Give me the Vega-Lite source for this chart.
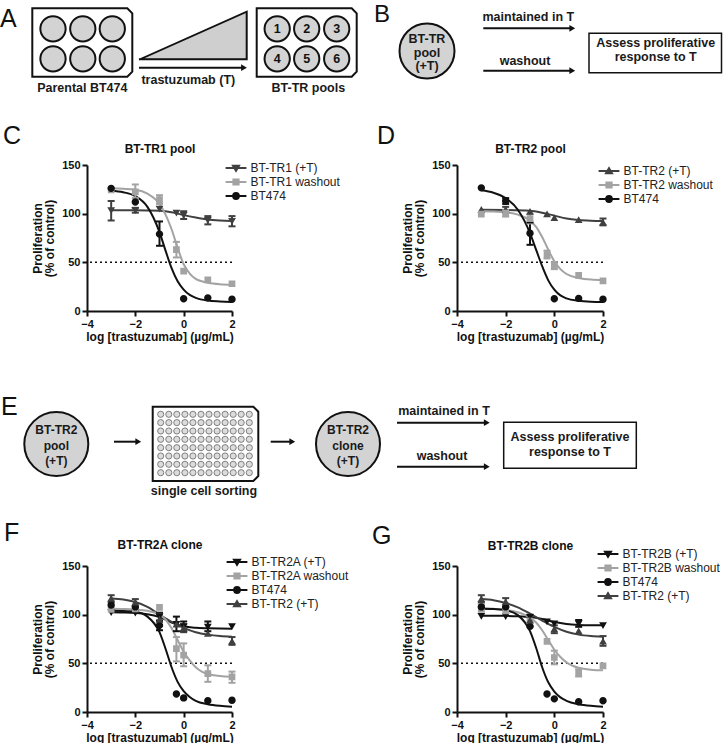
{
  "$schema": "https://vega.github.io/schema/vega-lite/v6.json",
  "padding": 0,
  "background": "white",
  "columns": 2,
  "bounds": "flush",
  "align": "each",
  "spacing": {"row": 55, "column": 225},
  "resolve": {
    "scale": {"x": "independent", "y": "independent", "color": "independent", "stroke": "independent", "shape": "independent"},
    "legend": {"color": "independent", "stroke": "independent", "shape": "independent"}
  },
  "config": {
    "font": "Liberation Sans",
    "view": {"stroke": null},
    "axis": {"domainColor": "#111", "domainWidth": 2, "tickColor": "#111", "tickWidth": 2, "tickSize": 5, "labelFontSize": 11, "labelFontWeight": "bold", "labelColor": "#111", "titleFontSize": 12, "titleFontWeight": "bold", "titleColor": "#111", "grid": false, "labelPadding": 2, "labelFont": "Liberation Sans", "titleFont": "Liberation Sans"},
    "legend": {"labelFontSize": 12, "labelColor": "#222", "labelFont": "Liberation Sans", "padding": 0, "rowPadding": 0, "labelOffset": 8.5, "symbolSize": 30, "symbolStrokeWidth": 2},
    "title": {"fontSize": 25, "fontWeight": "normal", "anchor": "start", "frame": "group", "color": "#111", "font": "Liberation Sans", "offset": 2}
  },
  "datasets": {
    "schemA": [
      {"part": "frame", "x": 0, "x2": 370, "y": 0, "y2": 110},
      {"part": "letter", "x": 0, "y": 27, "t": "A"},
      {"part": "outline", "id": "p1", "seq": 0, "x": 32.3, "y": 8.3},
      {"part": "outline", "id": "p1", "seq": 1, "x": 127.3, "y": 8.3},
      {"part": "outline", "id": "p1", "seq": 2, "x": 132.3, "y": 13.3},
      {"part": "outline", "id": "p1", "seq": 3, "x": 132.3, "y": 71.7},
      {"part": "outline", "id": "p1", "seq": 4, "x": 127.3, "y": 76.7},
      {"part": "outline", "id": "p1", "seq": 5, "x": 32.3, "y": 76.7},
      {"part": "outline", "id": "p1", "seq": 6, "x": 32.3, "y": 8.3},
      {"part": "outline", "id": "p2", "seq": 0, "x": 256.7, "y": 8.3},
      {"part": "outline", "id": "p2", "seq": 1, "x": 351.7, "y": 8.3},
      {"part": "outline", "id": "p2", "seq": 2, "x": 356.7, "y": 13.3},
      {"part": "outline", "id": "p2", "seq": 3, "x": 356.7, "y": 71.7},
      {"part": "outline", "id": "p2", "seq": 4, "x": 351.7, "y": 76.7},
      {"part": "outline", "id": "p2", "seq": 5, "x": 256.7, "y": 76.7},
      {"part": "outline", "id": "p2", "seq": 6, "x": 256.7, "y": 8.3},
      {"part": "outline", "id": "tri", "seq": 0, "x": 140, "y": 59.3},
      {"part": "outline", "id": "tri", "seq": 1, "x": 246.7, "y": 11.7},
      {"part": "outline", "id": "tri", "seq": 2, "x": 246.7, "y": 59.3},
      {"part": "outline", "id": "tri", "seq": 3, "x": 140, "y": 59.3},
      {"part": "outline", "id": "arr", "seq": 0, "x": 140, "y": 67.7},
      {"part": "outline", "id": "arr", "seq": 1, "x": 243, "y": 67.7},
      {"part": "wedge", "x": 140, "y": 59.3, "y2": 59.3},
      {"part": "wedge", "x": 246.7, "y": 11.7, "y2": 59.3},
      {"part": "well", "x": 53, "y": 28.8},
      {"part": "well", "x": 82.8, "y": 28.8},
      {"part": "well", "x": 112.3, "y": 28.8},
      {"part": "well", "x": 53, "y": 58.8},
      {"part": "well", "x": 82.8, "y": 58.8},
      {"part": "well", "x": 112.3, "y": 58.8},
      {"part": "well", "x": 277.2, "y": 28.8},
      {"part": "well", "x": 306.7, "y": 28.8},
      {"part": "well", "x": 336.7, "y": 28.8},
      {"part": "well", "x": 277.2, "y": 58.8},
      {"part": "well", "x": 306.7, "y": 58.8},
      {"part": "well", "x": 336.7, "y": 58.8},
      {"part": "num", "x": 277.2, "y": 28.8, "t": "1"},
      {"part": "num", "x": 306.7, "y": 28.8, "t": "2"},
      {"part": "num", "x": 336.7, "y": 28.8, "t": "3"},
      {"part": "num", "x": 277.2, "y": 58.8, "t": "4"},
      {"part": "num", "x": 306.7, "y": 58.8, "t": "5"},
      {"part": "num", "x": 336.7, "y": 58.8, "t": "6"},
      {"part": "head", "x": 244, "y": 67.7},
      {"part": "label", "x": 82.3, "y": 87.8, "t": "Parental BT474"},
      {"part": "label", "x": 188.3, "y": 79.5, "t": "trastuzumab (T)"},
      {"part": "label", "x": 308.3, "y": 87.8, "t": "BT-TR pools"}
    ],
    "schemB": [
      {"part": "letter", "x": 374, "y": 21.5, "t": "B"},
      {"part": "circle", "x": 427, "y": 51},
      {"part": "ctext", "x": 427, "y": 39, "t": "BT-TR"},
      {"part": "ctext", "x": 427, "y": 52.5, "t": "pool"},
      {"part": "ctext", "x": 427, "y": 66, "t": "(+T)"},
      {"part": "label", "x": 528.3, "y": 17.3, "t": "maintained in T"},
      {"part": "label", "x": 525, "y": 60.7, "t": "washout"},
      {"part": "label", "x": 655.7, "y": 43.3, "t": "Assess proliferative"},
      {"part": "label", "x": 655.7, "y": 56.7, "t": "response to T"},
      {"part": "outline", "id": "a1", "seq": 0, "x": 483.3, "y": 28.3},
      {"part": "outline", "id": "a1", "seq": 1, "x": 572, "y": 28.3},
      {"part": "outline", "id": "a2", "seq": 0, "x": 483.3, "y": 70.7},
      {"part": "outline", "id": "a2", "seq": 1, "x": 572, "y": 70.7},
      {"part": "head", "x": 572.3, "y": 28.3},
      {"part": "head", "x": 572.3, "y": 70.7},
      {"part": "box", "x": 589, "x2": 721.5, "y": 33.3, "y2": 72.7}
    ],
    "schemE1": [
      {"part": "letter", "x": 1, "y": 415, "t": "E"},
      {"part": "circle", "x": 56.3, "y": 444},
      {"part": "circle", "x": 348, "y": 444},
      {"part": "ctext", "x": 56.3, "y": 430, "t": "BT-TR2"},
      {"part": "ctext", "x": 56.3, "y": 445.5, "t": "pool"},
      {"part": "ctext", "x": 56.3, "y": 461, "t": "(+T)"},
      {"part": "ctext", "x": 348, "y": 430, "t": "BT-TR2"},
      {"part": "ctext", "x": 348, "y": 445.5, "t": "clone"},
      {"part": "ctext", "x": 348, "y": 461, "t": "(+T)"},
      {"part": "outline", "id": "pl", "seq": 0, "x": 152.7, "y": 406.7},
      {"part": "outline", "id": "pl", "seq": 1, "x": 253.3, "y": 406.7},
      {"part": "outline", "id": "pl", "seq": 2, "x": 258.3, "y": 411.7},
      {"part": "outline", "id": "pl", "seq": 3, "x": 258.3, "y": 476},
      {"part": "outline", "id": "pl", "seq": 4, "x": 253.3, "y": 481},
      {"part": "outline", "id": "pl", "seq": 5, "x": 152.7, "y": 481},
      {"part": "outline", "id": "pl", "seq": 6, "x": 152.7, "y": 406.7},
      {"part": "outline", "id": "e1", "seq": 0, "x": 115, "y": 441.7},
      {"part": "outline", "id": "e1", "seq": 1, "x": 138, "y": 441.7},
      {"part": "outline", "id": "e2", "seq": 0, "x": 271.7, "y": 441.7},
      {"part": "outline", "id": "e2", "seq": 1, "x": 292, "y": 441.7},
      {"part": "head", "x": 138.3, "y": 441.7},
      {"part": "head", "x": 292.3, "y": 441.7},
      {"part": "label", "x": 204, "y": 491, "t": "single cell sorting"}
    ],
    "wells": [
      {"x": 160.7, "y": 414.3}, {"x": 168.8, "y": 414.3}, {"x": 176.8, "y": 414.3}, {"x": 184.9, "y": 414.3}, {"x": 192.9, "y": 414.3}, {"x": 201.0, "y": 414.3}, {"x": 209.0, "y": 414.3}, {"x": 217.1, "y": 414.3}, {"x": 225.1, "y": 414.3}, {"x": 233.2, "y": 414.3}, {"x": 241.2, "y": 414.3}, {"x": 249.3, "y": 414.3},
      {"x": 160.7, "y": 422.6}, {"x": 168.8, "y": 422.6}, {"x": 176.8, "y": 422.6}, {"x": 184.9, "y": 422.6}, {"x": 192.9, "y": 422.6}, {"x": 201.0, "y": 422.6}, {"x": 209.0, "y": 422.6}, {"x": 217.1, "y": 422.6}, {"x": 225.1, "y": 422.6}, {"x": 233.2, "y": 422.6}, {"x": 241.2, "y": 422.6}, {"x": 249.3, "y": 422.6},
      {"x": 160.7, "y": 431.0}, {"x": 168.8, "y": 431.0}, {"x": 176.8, "y": 431.0}, {"x": 184.9, "y": 431.0}, {"x": 192.9, "y": 431.0}, {"x": 201.0, "y": 431.0}, {"x": 209.0, "y": 431.0}, {"x": 217.1, "y": 431.0}, {"x": 225.1, "y": 431.0}, {"x": 233.2, "y": 431.0}, {"x": 241.2, "y": 431.0}, {"x": 249.3, "y": 431.0},
      {"x": 160.7, "y": 439.3}, {"x": 168.8, "y": 439.3}, {"x": 176.8, "y": 439.3}, {"x": 184.9, "y": 439.3}, {"x": 192.9, "y": 439.3}, {"x": 201.0, "y": 439.3}, {"x": 209.0, "y": 439.3}, {"x": 217.1, "y": 439.3}, {"x": 225.1, "y": 439.3}, {"x": 233.2, "y": 439.3}, {"x": 241.2, "y": 439.3}, {"x": 249.3, "y": 439.3},
      {"x": 160.7, "y": 447.7}, {"x": 168.8, "y": 447.7}, {"x": 176.8, "y": 447.7}, {"x": 184.9, "y": 447.7}, {"x": 192.9, "y": 447.7}, {"x": 201.0, "y": 447.7}, {"x": 209.0, "y": 447.7}, {"x": 217.1, "y": 447.7}, {"x": 225.1, "y": 447.7}, {"x": 233.2, "y": 447.7}, {"x": 241.2, "y": 447.7}, {"x": 249.3, "y": 447.7},
      {"x": 160.7, "y": 456.0}, {"x": 168.8, "y": 456.0}, {"x": 176.8, "y": 456.0}, {"x": 184.9, "y": 456.0}, {"x": 192.9, "y": 456.0}, {"x": 201.0, "y": 456.0}, {"x": 209.0, "y": 456.0}, {"x": 217.1, "y": 456.0}, {"x": 225.1, "y": 456.0}, {"x": 233.2, "y": 456.0}, {"x": 241.2, "y": 456.0}, {"x": 249.3, "y": 456.0},
      {"x": 160.7, "y": 464.3}, {"x": 168.8, "y": 464.3}, {"x": 176.8, "y": 464.3}, {"x": 184.9, "y": 464.3}, {"x": 192.9, "y": 464.3}, {"x": 201.0, "y": 464.3}, {"x": 209.0, "y": 464.3}, {"x": 217.1, "y": 464.3}, {"x": 225.1, "y": 464.3}, {"x": 233.2, "y": 464.3}, {"x": 241.2, "y": 464.3}, {"x": 249.3, "y": 464.3},
      {"x": 160.7, "y": 472.7}, {"x": 168.8, "y": 472.7}, {"x": 176.8, "y": 472.7}, {"x": 184.9, "y": 472.7}, {"x": 192.9, "y": 472.7}, {"x": 201.0, "y": 472.7}, {"x": 209.0, "y": 472.7}, {"x": 217.1, "y": 472.7}, {"x": 225.1, "y": 472.7}, {"x": 233.2, "y": 472.7}, {"x": 241.2, "y": 472.7}, {"x": 249.3, "y": 472.7}
    ],
    "schemE2": [
      {"part": "outline", "id": "m", "seq": 0, "x": 397, "y": 422.7},
      {"part": "outline", "id": "m", "seq": 1, "x": 486.5, "y": 422.7},
      {"part": "outline", "id": "w", "seq": 0, "x": 397, "y": 466.7},
      {"part": "outline", "id": "w", "seq": 1, "x": 486.5, "y": 466.7},
      {"part": "head", "x": 486.8, "y": 422.7},
      {"part": "head", "x": 486.8, "y": 466.7},
      {"part": "label", "x": 444, "y": 411.3, "t": "maintained in T"},
      {"part": "label", "x": 442, "y": 456, "t": "washout"},
      {"part": "label", "x": 570, "y": 436.7, "t": "Assess proliferative"},
      {"part": "label", "x": 570, "y": 451.7, "t": "response to T"},
      {"part": "box", "x": 503.7, "x2": 636.3, "y": 422.3, "y2": 468.3}
    ],
    "pts": [
      {"p": "C", "s": "BT-TR1 (+T)", "x": -3, "y": 103.4, "lo": 93, "hi": 113},
      {"p": "C", "s": "BT-TR1 (+T)", "x": -2, "y": 103.4, "lo": 101, "hi": 106},
      {"p": "C", "s": "BT-TR1 (+T)", "x": -1, "y": 105},
      {"p": "C", "s": "BT-TR1 (+T)", "x": -0.3, "y": 101},
      {"p": "C", "s": "BT-TR1 (+T)", "x": 0, "y": 98.5, "lo": 94.5, "hi": 102.5},
      {"p": "C", "s": "BT-TR1 (+T)", "x": 1, "y": 93.4, "lo": 89, "hi": 97.5},
      {"p": "C", "s": "BT-TR1 (+T)", "x": 2, "y": 92.4, "lo": 87, "hi": 97.5},
      {"p": "C", "s": "BT-TR1 washout", "x": -3, "y": 124.5},
      {"p": "C", "s": "BT-TR1 washout", "x": -2, "y": 122.5, "lo": 116, "hi": 130},
      {"p": "C", "s": "BT-TR1 washout", "x": -1, "y": 114.5, "lo": 110, "hi": 119},
      {"p": "C", "s": "BT-TR1 washout", "x": -0.3, "y": 63, "lo": 55, "hi": 71},
      {"p": "C", "s": "BT-TR1 washout", "x": 0, "y": 41},
      {"p": "C", "s": "BT-TR1 washout", "x": 1, "y": 32},
      {"p": "C", "s": "BT-TR1 washout", "x": 2, "y": 28},
      {"p": "C", "s": "BT474", "x": -3, "y": 126},
      {"p": "C", "s": "BT474", "x": -2, "y": 112},
      {"p": "C", "s": "BT474", "x": -1, "y": 79, "lo": 67, "hi": 92},
      {"p": "C", "s": "BT474", "x": 0, "y": 12.5},
      {"p": "C", "s": "BT474", "x": 1, "y": 13.5},
      {"p": "C", "s": "BT474", "x": 2, "y": 12},
      {"p": "D", "s": "BT-TR2 (+T)", "x": -3, "y": 104},
      {"p": "D", "s": "BT-TR2 (+T)", "x": -2, "y": 104, "lo": 101, "hi": 107},
      {"p": "D", "s": "BT-TR2 (+T)", "x": -1, "y": 102},
      {"p": "D", "s": "BT-TR2 (+T)", "x": -0.3, "y": 99.5},
      {"p": "D", "s": "BT-TR2 (+T)", "x": 0, "y": 95.5},
      {"p": "D", "s": "BT-TR2 (+T)", "x": 1, "y": 93.5},
      {"p": "D", "s": "BT-TR2 (+T)", "x": 2, "y": 91, "lo": 88, "hi": 95},
      {"p": "D", "s": "BT-TR2 washout", "x": -3, "y": 99.5},
      {"p": "D", "s": "BT-TR2 washout", "x": -2, "y": 100.5, "lo": 97, "hi": 104},
      {"p": "D", "s": "BT-TR2 washout", "x": -1, "y": 95, "lo": 90, "hi": 100},
      {"p": "D", "s": "BT-TR2 washout", "x": -0.3, "y": 58, "lo": 54, "hi": 62},
      {"p": "D", "s": "BT-TR2 washout", "x": 0, "y": 46.5, "lo": 43, "hi": 50},
      {"p": "D", "s": "BT-TR2 washout", "x": 1, "y": 36.5},
      {"p": "D", "s": "BT-TR2 washout", "x": 2, "y": 31},
      {"p": "D", "s": "BT474", "x": -3, "y": 126.5},
      {"p": "D", "s": "BT474", "x": -2, "y": 113, "lo": 110, "hi": 116},
      {"p": "D", "s": "BT474", "x": -1, "y": 80, "lo": 68, "hi": 91},
      {"p": "D", "s": "BT474", "x": 0, "y": 12.5},
      {"p": "D", "s": "BT474", "x": 1, "y": 13},
      {"p": "D", "s": "BT474", "x": 2, "y": 12},
      {"p": "F", "s": "BT-TR2A (+T)", "x": -3, "y": 102.5},
      {"p": "F", "s": "BT-TR2A (+T)", "x": -2, "y": 102},
      {"p": "F", "s": "BT-TR2A (+T)", "x": -1, "y": 98, "lo": 94, "hi": 102},
      {"p": "F", "s": "BT-TR2A (+T)", "x": -0.3, "y": 90.5, "lo": 83, "hi": 98},
      {"p": "F", "s": "BT-TR2A (+T)", "x": 0, "y": 88, "lo": 83, "hi": 93},
      {"p": "F", "s": "BT-TR2A (+T)", "x": 1, "y": 87.5, "lo": 83, "hi": 93},
      {"p": "F", "s": "BT-TR2A (+T)", "x": 2, "y": 88},
      {"p": "F", "s": "BT-TR2A washout", "x": -3, "y": 105.5},
      {"p": "F", "s": "BT-TR2A washout", "x": -2, "y": 106},
      {"p": "F", "s": "BT-TR2A washout", "x": -1, "y": 107.5},
      {"p": "F", "s": "BT-TR2A washout", "x": -0.3, "y": 65, "lo": 52, "hi": 77},
      {"p": "F", "s": "BT-TR2A washout", "x": 0, "y": 58.5, "lo": 47, "hi": 70.5},
      {"p": "F", "s": "BT-TR2A washout", "x": 1, "y": 39.5, "lo": 31, "hi": 48},
      {"p": "F", "s": "BT-TR2A washout", "x": 2, "y": 36, "lo": 30, "hi": 41.5},
      {"p": "F", "s": "BT474", "x": -3, "y": 110},
      {"p": "F", "s": "BT474", "x": -2, "y": 108},
      {"p": "F", "s": "BT474", "x": -1, "y": 89, "lo": 84, "hi": 93},
      {"p": "F", "s": "BT474", "x": -0.3, "y": 18.5},
      {"p": "F", "s": "BT474", "x": 0, "y": 14.5},
      {"p": "F", "s": "BT474", "x": 1, "y": 11.5},
      {"p": "F", "s": "BT474", "x": 2, "y": 12},
      {"p": "F", "s": "BT-TR2 (+T)", "x": -3, "y": 116.5, "lo": 113, "hi": 120},
      {"p": "F", "s": "BT-TR2 (+T)", "x": -2, "y": 112.5, "lo": 109, "hi": 116},
      {"p": "F", "s": "BT-TR2 (+T)", "x": -1, "y": 95, "lo": 89, "hi": 101},
      {"p": "F", "s": "BT-TR2 (+T)", "x": -0.3, "y": 90},
      {"p": "F", "s": "BT-TR2 (+T)", "x": 0, "y": 86, "lo": 82, "hi": 90},
      {"p": "F", "s": "BT-TR2 (+T)", "x": 1, "y": 80.5},
      {"p": "F", "s": "BT-TR2 (+T)", "x": 2, "y": 72.5, "lo": 69, "hi": 77},
      {"p": "G", "s": "BT-TR2B (+T)", "x": -3, "y": 98.5},
      {"p": "G", "s": "BT-TR2B (+T)", "x": -2, "y": 98.3},
      {"p": "G", "s": "BT-TR2B (+T)", "x": -1, "y": 97.5},
      {"p": "G", "s": "BT-TR2B (+T)", "x": -0.3, "y": 93},
      {"p": "G", "s": "BT-TR2B (+T)", "x": 0, "y": 91},
      {"p": "G", "s": "BT-TR2B (+T)", "x": 1, "y": 91, "lo": 87.5, "hi": 94.5},
      {"p": "G", "s": "BT-TR2B (+T)", "x": 2, "y": 89},
      {"p": "G", "s": "BT-TR2B washout", "x": -3, "y": 107, "lo": 103, "hi": 111},
      {"p": "G", "s": "BT-TR2B washout", "x": -2, "y": 104},
      {"p": "G", "s": "BT-TR2B washout", "x": -1, "y": 93.5},
      {"p": "G", "s": "BT-TR2B washout", "x": -0.3, "y": 72.5},
      {"p": "G", "s": "BT-TR2B washout", "x": 0, "y": 56, "lo": 49, "hi": 63},
      {"p": "G", "s": "BT-TR2B washout", "x": 1, "y": 40, "lo": 36.5, "hi": 44},
      {"p": "G", "s": "BT-TR2B washout", "x": 2, "y": 47.5},
      {"p": "G", "s": "BT474", "x": -3, "y": 108},
      {"p": "G", "s": "BT474", "x": -2, "y": 108},
      {"p": "G", "s": "BT474", "x": -1, "y": 88},
      {"p": "G", "s": "BT474", "x": -0.3, "y": 18.5},
      {"p": "G", "s": "BT474", "x": 0, "y": 13.5},
      {"p": "G", "s": "BT474", "x": 1, "y": 10.5},
      {"p": "G", "s": "BT474", "x": 2, "y": 11.5},
      {"p": "G", "s": "BT-TR2 (+T)", "x": -3, "y": 116, "lo": 112.5, "hi": 120},
      {"p": "G", "s": "BT-TR2 (+T)", "x": -2, "y": 113, "lo": 108, "hi": 117},
      {"p": "G", "s": "BT-TR2 (+T)", "x": -1, "y": 94, "lo": 88, "hi": 100},
      {"p": "G", "s": "BT-TR2 (+T)", "x": 0, "y": 85, "lo": 81, "hi": 89},
      {"p": "G", "s": "BT-TR2 (+T)", "x": 1, "y": 83},
      {"p": "G", "s": "BT-TR2 (+T)", "x": 2, "y": 72.5, "lo": 68, "hi": 78}
    ],
    "curves": [
      {"p": "C", "s": "BT-TR1 (+T)", "x": -3, "y": 103.6}, {"p": "C", "s": "BT-TR1 (+T)", "x": -2, "y": 103.5}, {"p": "C", "s": "BT-TR1 (+T)", "x": -1.5, "y": 103.3}, {"p": "C", "s": "BT-TR1 (+T)", "x": -1, "y": 103}, {"p": "C", "s": "BT-TR1 (+T)", "x": -0.5, "y": 101.5}, {"p": "C", "s": "BT-TR1 (+T)", "x": 0, "y": 98.5}, {"p": "C", "s": "BT-TR1 (+T)", "x": 0.5, "y": 96}, {"p": "C", "s": "BT-TR1 (+T)", "x": 1, "y": 94}, {"p": "C", "s": "BT-TR1 (+T)", "x": 1.5, "y": 93}, {"p": "C", "s": "BT-TR1 (+T)", "x": 2, "y": 92.5},
      {"p": "C", "s": "BT-TR1 washout", "x": -3, "y": 126}, {"p": "C", "s": "BT-TR1 washout", "x": -2.5, "y": 125.5}, {"p": "C", "s": "BT-TR1 washout", "x": -2, "y": 124.5}, {"p": "C", "s": "BT-TR1 washout", "x": -1.5, "y": 120.5}, {"p": "C", "s": "BT-TR1 washout", "x": -1, "y": 110}, {"p": "C", "s": "BT-TR1 washout", "x": -0.75, "y": 99}, {"p": "C", "s": "BT-TR1 washout", "x": -0.5, "y": 84}, {"p": "C", "s": "BT-TR1 washout", "x": -0.25, "y": 65}, {"p": "C", "s": "BT-TR1 washout", "x": 0, "y": 48}, {"p": "C", "s": "BT-TR1 washout", "x": 0.25, "y": 38.5}, {"p": "C", "s": "BT-TR1 washout", "x": 0.5, "y": 33}, {"p": "C", "s": "BT-TR1 washout", "x": 0.75, "y": 30.5}, {"p": "C", "s": "BT-TR1 washout", "x": 1, "y": 29}, {"p": "C", "s": "BT-TR1 washout", "x": 1.5, "y": 27.5}, {"p": "C", "s": "BT-TR1 washout", "x": 2, "y": 27},
      {"p": "C", "s": "BT474", "x": -3, "y": 123.5}, {"p": "C", "s": "BT474", "x": -2.5, "y": 122}, {"p": "C", "s": "BT474", "x": -2, "y": 118}, {"p": "C", "s": "BT474", "x": -1.5, "y": 107}, {"p": "C", "s": "BT474", "x": -1, "y": 81}, {"p": "C", "s": "BT474", "x": -0.75, "y": 62}, {"p": "C", "s": "BT474", "x": -0.5, "y": 44}, {"p": "C", "s": "BT474", "x": -0.25, "y": 30.5}, {"p": "C", "s": "BT474", "x": 0, "y": 22}, {"p": "C", "s": "BT474", "x": 0.25, "y": 16.5}, {"p": "C", "s": "BT474", "x": 0.5, "y": 13.5}, {"p": "C", "s": "BT474", "x": 1, "y": 10.7}, {"p": "C", "s": "BT474", "x": 1.5, "y": 9.8}, {"p": "C", "s": "BT474", "x": 2, "y": 9.3},
      {"p": "D", "s": "BT-TR2 (+T)", "x": -3, "y": 104}, {"p": "D", "s": "BT-TR2 (+T)", "x": -2, "y": 103.8}, {"p": "D", "s": "BT-TR2 (+T)", "x": -1, "y": 103}, {"p": "D", "s": "BT-TR2 (+T)", "x": -0.5, "y": 101}, {"p": "D", "s": "BT-TR2 (+T)", "x": 0, "y": 98}, {"p": "D", "s": "BT-TR2 (+T)", "x": 0.5, "y": 95}, {"p": "D", "s": "BT-TR2 (+T)", "x": 1, "y": 93.5}, {"p": "D", "s": "BT-TR2 (+T)", "x": 1.5, "y": 92.8}, {"p": "D", "s": "BT-TR2 (+T)", "x": 2, "y": 92.5},
      {"p": "D", "s": "BT-TR2 washout", "x": -3, "y": 102.5}, {"p": "D", "s": "BT-TR2 washout", "x": -2.5, "y": 102.3}, {"p": "D", "s": "BT-TR2 washout", "x": -2, "y": 101.5}, {"p": "D", "s": "BT-TR2 washout", "x": -1.5, "y": 99}, {"p": "D", "s": "BT-TR2 washout", "x": -1, "y": 93}, {"p": "D", "s": "BT-TR2 washout", "x": -0.75, "y": 86.5}, {"p": "D", "s": "BT-TR2 washout", "x": -0.5, "y": 76}, {"p": "D", "s": "BT-TR2 washout", "x": -0.25, "y": 63}, {"p": "D", "s": "BT-TR2 washout", "x": 0, "y": 51}, {"p": "D", "s": "BT-TR2 washout", "x": 0.25, "y": 43}, {"p": "D", "s": "BT-TR2 washout", "x": 0.5, "y": 38}, {"p": "D", "s": "BT-TR2 washout", "x": 1, "y": 34}, {"p": "D", "s": "BT-TR2 washout", "x": 1.5, "y": 32.3}, {"p": "D", "s": "BT-TR2 washout", "x": 2, "y": 31.8},
      {"p": "D", "s": "BT474", "x": -3, "y": 124}, {"p": "D", "s": "BT474", "x": -2.5, "y": 121.5}, {"p": "D", "s": "BT474", "x": -2, "y": 116}, {"p": "D", "s": "BT474", "x": -1.5, "y": 104}, {"p": "D", "s": "BT474", "x": -1, "y": 80}, {"p": "D", "s": "BT474", "x": -0.75, "y": 63}, {"p": "D", "s": "BT474", "x": -0.5, "y": 46}, {"p": "D", "s": "BT474", "x": -0.25, "y": 31.5}, {"p": "D", "s": "BT474", "x": 0, "y": 22}, {"p": "D", "s": "BT474", "x": 0.25, "y": 16}, {"p": "D", "s": "BT474", "x": 0.5, "y": 13}, {"p": "D", "s": "BT474", "x": 1, "y": 10.5}, {"p": "D", "s": "BT474", "x": 1.5, "y": 9.5}, {"p": "D", "s": "BT474", "x": 2, "y": 9.2},
      {"p": "F", "s": "BT-TR2A (+T)", "x": -3, "y": 102.5}, {"p": "F", "s": "BT-TR2A (+T)", "x": -2.5, "y": 102.3}, {"p": "F", "s": "BT-TR2A (+T)", "x": -2, "y": 101.8}, {"p": "F", "s": "BT-TR2A (+T)", "x": -1.5, "y": 100.5}, {"p": "F", "s": "BT-TR2A (+T)", "x": -1, "y": 97.5}, {"p": "F", "s": "BT-TR2A (+T)", "x": -0.5, "y": 92}, {"p": "F", "s": "BT-TR2A (+T)", "x": 0, "y": 88}, {"p": "F", "s": "BT-TR2A (+T)", "x": 0.5, "y": 86.5}, {"p": "F", "s": "BT-TR2A (+T)", "x": 1, "y": 86}, {"p": "F", "s": "BT-TR2A (+T)", "x": 1.5, "y": 85.7}, {"p": "F", "s": "BT-TR2A (+T)", "x": 2, "y": 85.6},
      {"p": "F", "s": "BT-TR2 (+T)", "x": -3, "y": 116.5}, {"p": "F", "s": "BT-TR2 (+T)", "x": -2.5, "y": 115.5}, {"p": "F", "s": "BT-TR2 (+T)", "x": -2, "y": 113}, {"p": "F", "s": "BT-TR2 (+T)", "x": -1.5, "y": 108}, {"p": "F", "s": "BT-TR2 (+T)", "x": -1, "y": 100}, {"p": "F", "s": "BT-TR2 (+T)", "x": -0.5, "y": 92.5}, {"p": "F", "s": "BT-TR2 (+T)", "x": 0, "y": 86.5}, {"p": "F", "s": "BT-TR2 (+T)", "x": 0.5, "y": 82}, {"p": "F", "s": "BT-TR2 (+T)", "x": 1, "y": 79.5}, {"p": "F", "s": "BT-TR2 (+T)", "x": 1.5, "y": 78}, {"p": "F", "s": "BT-TR2 (+T)", "x": 2, "y": 77.3},
      {"p": "F", "s": "BT-TR2A washout", "x": -3, "y": 106}, {"p": "F", "s": "BT-TR2A washout", "x": -2.5, "y": 105.8}, {"p": "F", "s": "BT-TR2A washout", "x": -2, "y": 105.3}, {"p": "F", "s": "BT-TR2A washout", "x": -1.5, "y": 104}, {"p": "F", "s": "BT-TR2A washout", "x": -1, "y": 100}, {"p": "F", "s": "BT-TR2A washout", "x": -0.75, "y": 95}, {"p": "F", "s": "BT-TR2A washout", "x": -0.5, "y": 86}, {"p": "F", "s": "BT-TR2A washout", "x": -0.25, "y": 74}, {"p": "F", "s": "BT-TR2A washout", "x": 0, "y": 62}, {"p": "F", "s": "BT-TR2A washout", "x": 0.25, "y": 53}, {"p": "F", "s": "BT-TR2A washout", "x": 0.5, "y": 46}, {"p": "F", "s": "BT-TR2A washout", "x": 0.75, "y": 41.5}, {"p": "F", "s": "BT-TR2A washout", "x": 1, "y": 39}, {"p": "F", "s": "BT-TR2A washout", "x": 1.5, "y": 37}, {"p": "F", "s": "BT-TR2A washout", "x": 2, "y": 36.3},
      {"p": "F", "s": "BT474", "x": -3, "y": 104}, {"p": "F", "s": "BT474", "x": -2.5, "y": 103.8}, {"p": "F", "s": "BT474", "x": -2, "y": 103}, {"p": "F", "s": "BT474", "x": -1.5, "y": 98}, {"p": "F", "s": "BT474", "x": -1, "y": 82}, {"p": "F", "s": "BT474", "x": -0.75, "y": 65}, {"p": "F", "s": "BT474", "x": -0.5, "y": 46}, {"p": "F", "s": "BT474", "x": -0.25, "y": 31}, {"p": "F", "s": "BT474", "x": 0, "y": 21.5}, {"p": "F", "s": "BT474", "x": 0.25, "y": 15.5}, {"p": "F", "s": "BT474", "x": 0.5, "y": 11.5}, {"p": "F", "s": "BT474", "x": 1, "y": 8}, {"p": "F", "s": "BT474", "x": 1.5, "y": 6.3}, {"p": "F", "s": "BT474", "x": 2, "y": 5.5},
      {"p": "G", "s": "BT-TR2B (+T)", "x": -3, "y": 99}, {"p": "G", "s": "BT-TR2B (+T)", "x": -2, "y": 98.8}, {"p": "G", "s": "BT-TR2B (+T)", "x": -1.5, "y": 98.4}, {"p": "G", "s": "BT-TR2B (+T)", "x": -1, "y": 97.5}, {"p": "G", "s": "BT-TR2B (+T)", "x": -0.5, "y": 95.5}, {"p": "G", "s": "BT-TR2B (+T)", "x": 0, "y": 92.5}, {"p": "G", "s": "BT-TR2B (+T)", "x": 0.5, "y": 90.5}, {"p": "G", "s": "BT-TR2B (+T)", "x": 1, "y": 89.5}, {"p": "G", "s": "BT-TR2B (+T)", "x": 1.5, "y": 89.1}, {"p": "G", "s": "BT-TR2B (+T)", "x": 2, "y": 89},
      {"p": "G", "s": "BT-TR2 (+T)", "x": -3, "y": 116}, {"p": "G", "s": "BT-TR2 (+T)", "x": -2.5, "y": 114.8}, {"p": "G", "s": "BT-TR2 (+T)", "x": -2, "y": 112}, {"p": "G", "s": "BT-TR2 (+T)", "x": -1.5, "y": 107.5}, {"p": "G", "s": "BT-TR2 (+T)", "x": -1, "y": 101}, {"p": "G", "s": "BT-TR2 (+T)", "x": -0.5, "y": 94}, {"p": "G", "s": "BT-TR2 (+T)", "x": 0, "y": 87.5}, {"p": "G", "s": "BT-TR2 (+T)", "x": 0.5, "y": 82.5}, {"p": "G", "s": "BT-TR2 (+T)", "x": 1, "y": 79.5}, {"p": "G", "s": "BT-TR2 (+T)", "x": 1.5, "y": 78}, {"p": "G", "s": "BT-TR2 (+T)", "x": 2, "y": 77.3},
      {"p": "G", "s": "BT-TR2B washout", "x": -3, "y": 106.5}, {"p": "G", "s": "BT-TR2B washout", "x": -2.5, "y": 106}, {"p": "G", "s": "BT-TR2B washout", "x": -2, "y": 105}, {"p": "G", "s": "BT-TR2B washout", "x": -1.5, "y": 102.5}, {"p": "G", "s": "BT-TR2B washout", "x": -1, "y": 97}, {"p": "G", "s": "BT-TR2B washout", "x": -0.75, "y": 92}, {"p": "G", "s": "BT-TR2B washout", "x": -0.5, "y": 84}, {"p": "G", "s": "BT-TR2B washout", "x": -0.25, "y": 74}, {"p": "G", "s": "BT-TR2B washout", "x": 0, "y": 64}, {"p": "G", "s": "BT-TR2B washout", "x": 0.25, "y": 56.5}, {"p": "G", "s": "BT-TR2B washout", "x": 0.5, "y": 51}, {"p": "G", "s": "BT-TR2B washout", "x": 0.75, "y": 47.5}, {"p": "G", "s": "BT-TR2B washout", "x": 1, "y": 45.5}, {"p": "G", "s": "BT-TR2B washout", "x": 1.5, "y": 43.5}, {"p": "G", "s": "BT-TR2B washout", "x": 2, "y": 42.8},
      {"p": "G", "s": "BT474", "x": -3, "y": 106}, {"p": "G", "s": "BT474", "x": -2.5, "y": 105.7}, {"p": "G", "s": "BT474", "x": -2, "y": 104.5}, {"p": "G", "s": "BT474", "x": -1.5, "y": 99.5}, {"p": "G", "s": "BT474", "x": -1, "y": 83}, {"p": "G", "s": "BT474", "x": -0.75, "y": 66}, {"p": "G", "s": "BT474", "x": -0.5, "y": 46}, {"p": "G", "s": "BT474", "x": -0.25, "y": 30.5}, {"p": "G", "s": "BT474", "x": 0, "y": 21}, {"p": "G", "s": "BT474", "x": 0.25, "y": 15}, {"p": "G", "s": "BT474", "x": 0.5, "y": 11.5}, {"p": "G", "s": "BT474", "x": 1, "y": 8}, {"p": "G", "s": "BT474", "x": 1.5, "y": 6.3}, {"p": "G", "s": "BT474", "x": 2, "y": 5.5}
    ]
  },
  "concat": [
    {
      "width": 145, "height": 110,
      "data": {"name": "schemA"},
      "encoding": {
        "x": {"field": "x", "type": "quantitative", "scale": {"domain": [87, 232], "range": [0, 145], "nice": false, "zero": false}, "axis": null},
        "y": {"field": "y", "type": "quantitative", "scale": {"domain": [0, 110], "range": [0, 110], "nice": false, "zero": false}, "axis": null}
      },
      "layer": [
        {"transform": [{"filter": "datum.part == 'frame'"}], "mark": {"type": "rect", "fill": "white", "strokeWidth": 0}, "encoding": {"x2": {"field": "x2"}, "y2": {"field": "y2"}}},
        {"transform": [{"filter": "datum.part == 'wedge'"}], "mark": {"type": "area", "fill": "#cfcfcf", "opacity": 1}, "encoding": {"y2": {"field": "y2"}}},
        {"transform": [{"filter": "datum.part == 'outline'"}], "mark": {"type": "line", "color": "#111", "strokeWidth": 2, "strokeJoin": "miter", "strokeCap": "square"}, "encoding": {"detail": {"field": "id"}, "order": {"field": "seq"}}},
        {"transform": [{"filter": "datum.part == 'well'"}], "mark": {"type": "point", "shape": "circle", "size": 640, "filled": true, "fill": "#d3d3d3", "stroke": "#111", "strokeWidth": 2, "opacity": 1}},
        {"transform": [{"filter": "datum.part == 'head'"}], "mark": {"type": "point", "shape": "triangle-right", "size": 45, "filled": true, "fill": "#111", "strokeWidth": 0, "opacity": 1}},
        {"transform": [{"filter": "datum.part == 'num'"}], "mark": {"type": "text", "fontSize": 12.5, "fontWeight": "bold", "color": "#111", "align": "center", "baseline": "middle"}, "encoding": {"text": {"field": "t"}}},
        {"transform": [{"filter": "datum.part == 'label'"}], "mark": {"type": "text", "fontSize": 12.5, "fontWeight": "bold", "color": "#1a1a1a", "align": "center", "baseline": "middle"}, "encoding": {"text": {"field": "t"}}},
        {"transform": [{"filter": "datum.part == 'letter'"}], "mark": {"type": "text", "fontSize": 25, "color": "#111", "align": "left", "baseline": "alphabetic"}, "encoding": {"text": {"field": "t"}}}
      ]
    },
    {
      "width": 146, "height": 110,
      "data": {"name": "schemB"},
      "encoding": {
        "x": {"field": "x", "type": "quantitative", "scale": {"domain": [457, 603], "range": [0, 146], "nice": false, "zero": false}, "axis": null},
        "y": {"field": "y", "type": "quantitative", "scale": {"domain": [0, 110], "range": [0, 110], "nice": false, "zero": false}, "axis": null}
      },
      "layer": [
        {"transform": [{"filter": "datum.part == 'box'"}], "mark": {"type": "rect", "fill": "white", "stroke": "#111", "strokeWidth": 1.5}, "encoding": {"x2": {"field": "x2"}, "y2": {"field": "y2"}}},
        {"transform": [{"filter": "datum.part == 'outline'"}], "mark": {"type": "line", "color": "#111", "strokeWidth": 2}, "encoding": {"detail": {"field": "id"}, "order": {"field": "seq"}}},
        {"transform": [{"filter": "datum.part == 'head'"}], "mark": {"type": "point", "shape": "triangle-right", "size": 45, "filled": true, "fill": "#111", "strokeWidth": 0, "opacity": 1}},
        {"transform": [{"filter": "datum.part == 'circle'"}], "mark": {"type": "point", "shape": "circle", "size": 3025, "filled": true, "fill": "#d3d3d3", "stroke": "#111", "strokeWidth": 2, "opacity": 1}},
        {"transform": [{"filter": "datum.part == 'ctext' || datum.part == 'label'"}], "mark": {"type": "text", "fontSize": 12.5, "fontWeight": "bold", "color": "#1a1a1a", "align": "center", "baseline": "middle"}, "encoding": {"text": {"field": "t"}}},
        {"transform": [{"filter": "datum.part == 'letter'"}], "mark": {"type": "text", "fontSize": 24, "color": "#111", "align": "left", "baseline": "alphabetic"}, "encoding": {"text": {"field": "t"}}}
      ]
    },
    {
      "width": 145, "height": 146,
      "title": {"text": "C", "dx": -84, "dy": 9},
      "resolve": {"axis": {"x": "independent"}},
      "layer": [
        {"data": {"values": [{}]}, "mark": {"type": "rule", "strokeDash": [2, 3], "strokeWidth": 1.5, "color": "#111"}, "encoding": {"y": {"datum": 50, "type": "quantitative", "scale": {"domain": [0, 150], "nice": false}}}},
        {"data": {"name": "curves"}, "transform": [{"filter": "datum.p == 'C'"}], "mark": {"type": "line", "interpolate": "monotone", "strokeWidth": 2},
          "encoding": {
            "x": {"field": "x", "type": "quantitative", "scale": {"domain": [-4, 2], "nice": false, "zero": false}, "axis": {"orient": "top", "title": "BT-TR1 pool", "labels": false, "ticks": false, "domain": false, "titlePadding": 10}},
            "y": {"field": "y", "type": "quantitative", "scale": {"domain": [0, 150], "nice": false}},
            "color": {"field": "s", "type": "nominal", "scale": {"domain": ["BT-TR1 (+T)", "BT-TR1 washout", "BT474"], "range": ["#404040", "#a3a3a3", "#111111"]}}
          }},
        {"data": {"name": "pts"}, "transform": [{"filter": "datum.p == 'C' && datum.lo != null"}], "mark": {"type": "rule", "strokeWidth": 2},
          "encoding": {
            "x": {"field": "x", "type": "quantitative", "scale": {"domain": [-4, 2], "nice": false, "zero": false}, "axis": null},
            "y": {"field": "lo", "type": "quantitative", "scale": {"domain": [0, 150], "nice": false}},
            "y2": {"field": "hi"},
            "color": {"field": "s", "type": "nominal", "scale": {"domain": ["BT-TR1 (+T)", "BT-TR1 washout", "BT474"], "range": ["#404040", "#a3a3a3", "#111111"]}}
          }},
        {"data": {"name": "pts"}, "transform": [{"filter": "datum.p == 'C' && datum.lo != null"}], "mark": {"type": "tick", "orient": "horizontal", "thickness": 2, "size": 7, "opacity": 1},
          "encoding": {
            "x": {"field": "x", "type": "quantitative", "scale": {"domain": [-4, 2], "nice": false, "zero": false}, "axis": null},
            "y": {"field": "lo", "type": "quantitative", "scale": {"domain": [0, 150], "nice": false}},
            "color": {"field": "s", "type": "nominal", "scale": {"domain": ["BT-TR1 (+T)", "BT-TR1 washout", "BT474"], "range": ["#404040", "#a3a3a3", "#111111"]}}
          }},
        {"data": {"name": "pts"}, "transform": [{"filter": "datum.p == 'C' && datum.lo != null"}], "mark": {"type": "tick", "orient": "horizontal", "thickness": 2, "size": 7, "opacity": 1},
          "encoding": {
            "x": {"field": "x", "type": "quantitative", "scale": {"domain": [-4, 2], "nice": false, "zero": false}, "axis": null},
            "y": {"field": "hi", "type": "quantitative", "scale": {"domain": [0, 150], "nice": false}},
            "color": {"field": "s", "type": "nominal", "scale": {"domain": ["BT-TR1 (+T)", "BT-TR1 washout", "BT474"], "range": ["#404040", "#a3a3a3", "#111111"]}}
          }},
        {"data": {"name": "pts"}, "transform": [{"filter": "datum.p == 'C'"}], "mark": {"type": "point", "filled": true, "size": 50, "strokeWidth": 0, "opacity": 1},
          "encoding": {
            "x": {"field": "x", "type": "quantitative", "scale": {"domain": [-4, 2], "nice": false, "zero": false}, "axis": {"orient": "bottom", "values": [-4, -2, 0, 2], "title": "log [trastuzumab] (µg/mL)", "labelFlush": false, "titlePadding": 2}},
            "y": {"field": "y", "type": "quantitative", "scale": {"domain": [0, 150], "nice": false}, "axis": {"values": [0, 50, 100, 150], "title": ["Proliferation", "(% of control)"], "titlePadding": 5, "titleLineHeight": 12.5}},
            "color": {"field": "s", "type": "nominal", "scale": {"domain": ["BT-TR1 (+T)", "BT-TR1 washout", "BT474"], "range": ["#404040", "#a3a3a3", "#111111"]}, "legend": {"orient": "none", "legendX": 143, "legendY": -3, "title": null, "encode": {"symbols": {"update": {"strokeWidth": {"value": 2}, "size": {"value": 30}}}}}},
            "stroke": {"field": "s", "type": "nominal", "scale": {"domain": ["BT-TR1 (+T)", "BT-TR1 washout", "BT474"], "range": ["#404040", "#a3a3a3", "#111111"]}, "legend": {"orient": "none", "legendX": 143, "legendY": -3, "title": null, "encode": {"symbols": {"update": {"strokeWidth": {"value": 2}, "size": {"value": 30}}}}}},
            "shape": {"field": "s", "type": "nominal", "scale": {"domain": ["BT-TR1 (+T)", "BT-TR1 washout", "BT474"], "range": ["M-3.8,0H3.8M-1.1,-0.85L1.1,-0.85L0,1.05Z", "M-3.8,0H3.8M-0.95,-0.95H0.95V0.95H-0.95Z", "M-3.8,0H3.8M-1.05,0A1.05,1.05,0,1,1,1.05,0A1.05,1.05,0,1,1,-1.05,0Z"]}, "legend": {"orient": "none", "legendX": 143, "legendY": -3, "title": null, "encode": {"symbols": {"update": {"strokeWidth": {"value": 2}, "size": {"value": 30}}}}}}
          }}
      ]
    },
    {
      "width": 146, "height": 146,
      "title": {"text": "D", "dx": -80, "dy": 9},
      "resolve": {"axis": {"x": "independent"}},
      "layer": [
        {"data": {"values": [{}]}, "mark": {"type": "rule", "strokeDash": [2, 3], "strokeWidth": 1.5, "color": "#111"}, "encoding": {"y": {"datum": 50, "type": "quantitative", "scale": {"domain": [0, 150], "nice": false}}}},
        {"data": {"name": "curves"}, "transform": [{"filter": "datum.p == 'D'"}], "mark": {"type": "line", "interpolate": "monotone", "strokeWidth": 2},
          "encoding": {
            "x": {"field": "x", "type": "quantitative", "scale": {"domain": [-4, 2], "nice": false, "zero": false}, "axis": {"orient": "top", "title": "BT-TR2 pool", "labels": false, "ticks": false, "domain": false, "titlePadding": 10}},
            "y": {"field": "y", "type": "quantitative", "scale": {"domain": [0, 150], "nice": false}},
            "color": {"field": "s", "type": "nominal", "scale": {"domain": ["BT-TR2 (+T)", "BT-TR2 washout", "BT474"], "range": ["#404040", "#a3a3a3", "#111111"]}}
          }},
        {"data": {"name": "pts"}, "transform": [{"filter": "datum.p == 'D' && datum.lo != null"}], "mark": {"type": "rule", "strokeWidth": 2},
          "encoding": {
            "x": {"field": "x", "type": "quantitative", "scale": {"domain": [-4, 2], "nice": false, "zero": false}, "axis": null},
            "y": {"field": "lo", "type": "quantitative", "scale": {"domain": [0, 150], "nice": false}},
            "y2": {"field": "hi"},
            "color": {"field": "s", "type": "nominal", "scale": {"domain": ["BT-TR2 (+T)", "BT-TR2 washout", "BT474"], "range": ["#404040", "#a3a3a3", "#111111"]}}
          }},
        {"data": {"name": "pts"}, "transform": [{"filter": "datum.p == 'D' && datum.lo != null"}], "mark": {"type": "tick", "orient": "horizontal", "thickness": 2, "size": 7, "opacity": 1},
          "encoding": {
            "x": {"field": "x", "type": "quantitative", "scale": {"domain": [-4, 2], "nice": false, "zero": false}, "axis": null},
            "y": {"field": "lo", "type": "quantitative", "scale": {"domain": [0, 150], "nice": false}},
            "color": {"field": "s", "type": "nominal", "scale": {"domain": ["BT-TR2 (+T)", "BT-TR2 washout", "BT474"], "range": ["#404040", "#a3a3a3", "#111111"]}}
          }},
        {"data": {"name": "pts"}, "transform": [{"filter": "datum.p == 'D' && datum.lo != null"}], "mark": {"type": "tick", "orient": "horizontal", "thickness": 2, "size": 7, "opacity": 1},
          "encoding": {
            "x": {"field": "x", "type": "quantitative", "scale": {"domain": [-4, 2], "nice": false, "zero": false}, "axis": null},
            "y": {"field": "hi", "type": "quantitative", "scale": {"domain": [0, 150], "nice": false}},
            "color": {"field": "s", "type": "nominal", "scale": {"domain": ["BT-TR2 (+T)", "BT-TR2 washout", "BT474"], "range": ["#404040", "#a3a3a3", "#111111"]}}
          }},
        {"data": {"name": "pts"}, "transform": [{"filter": "datum.p == 'D'"}], "mark": {"type": "point", "filled": true, "size": 50, "strokeWidth": 0, "opacity": 1},
          "encoding": {
            "x": {"field": "x", "type": "quantitative", "scale": {"domain": [-4, 2], "nice": false, "zero": false}, "axis": {"orient": "bottom", "values": [-4, -2, 0, 2], "title": "log [trastuzumab] (µg/mL)", "labelFlush": false, "titlePadding": 2}},
            "y": {"field": "y", "type": "quantitative", "scale": {"domain": [0, 150], "nice": false}, "axis": {"values": [0, 50, 100, 150], "title": ["Proliferation", "(% of control)"], "titlePadding": 5, "titleLineHeight": 12.5}},
            "color": {"field": "s", "type": "nominal", "scale": {"domain": ["BT-TR2 (+T)", "BT-TR2 washout", "BT474"], "range": ["#404040", "#a3a3a3", "#111111"]}, "legend": {"orient": "none", "legendX": 146, "legendY": 0, "title": null, "encode": {"symbols": {"update": {"strokeWidth": {"value": 2}, "size": {"value": 30}}}}}},
            "stroke": {"field": "s", "type": "nominal", "scale": {"domain": ["BT-TR2 (+T)", "BT-TR2 washout", "BT474"], "range": ["#404040", "#a3a3a3", "#111111"]}, "legend": {"orient": "none", "legendX": 146, "legendY": 0, "title": null, "encode": {"symbols": {"update": {"strokeWidth": {"value": 2}, "size": {"value": 30}}}}}},
            "shape": {"field": "s", "type": "nominal", "scale": {"domain": ["BT-TR2 (+T)", "BT-TR2 washout", "BT474"], "range": ["M-3.8,0H3.8M-1.1,0.85L1.1,0.85L0,-1.05Z", "M-3.8,0H3.8M-0.95,-0.95H0.95V0.95H-0.95Z", "M-3.8,0H3.8M-1.05,0A1.05,1.05,0,1,1,1.05,0A1.05,1.05,0,1,1,-1.05,0Z"]}, "legend": {"orient": "none", "legendX": 146, "legendY": 0, "title": null, "encode": {"symbols": {"update": {"strokeWidth": {"value": 2}, "size": {"value": 30}}}}}}
          }}
      ]
    },
    {
      "width": 145, "height": 145,
      "encoding": {
        "x": {"field": "x", "type": "quantitative", "scale": {"domain": [87, 232], "range": [0, 145], "nice": false, "zero": false}, "axis": null},
        "y": {"field": "y", "type": "quantitative", "scale": {"domain": [366, 511], "range": [0, 145], "nice": false, "zero": false}, "axis": null}
      },
      "layer": [
        {"data": {"name": "schemE1"}, "transform": [{"filter": "datum.part == 'outline'"}], "mark": {"type": "line", "color": "#111", "strokeWidth": 2, "strokeJoin": "miter", "strokeCap": "square"}, "encoding": {"detail": {"field": "id"}, "order": {"field": "seq"}}},
        {"data": {"name": "wells"}, "mark": {"type": "point", "shape": "circle", "size": 38, "filled": true, "fill": "#dcdcdc", "stroke": "#666", "strokeWidth": 0.8, "opacity": 1}},
        {"data": {"name": "schemE1"}, "transform": [{"filter": "datum.part == 'head'"}], "mark": {"type": "point", "shape": "triangle-right", "size": 45, "filled": true, "fill": "#111", "strokeWidth": 0, "opacity": 1}},
        {"data": {"name": "schemE1"}, "transform": [{"filter": "datum.part == 'circle'"}], "mark": {"type": "point", "shape": "circle", "size": 4096, "filled": true, "fill": "#d3d3d3", "stroke": "#111", "strokeWidth": 2, "opacity": 1}},
        {"data": {"name": "schemE1"}, "transform": [{"filter": "datum.part == 'ctext'"}], "mark": {"type": "text", "fontSize": 12, "fontWeight": "bold", "color": "#1a1a1a", "align": "center", "baseline": "middle"}, "encoding": {"text": {"field": "t"}}},
        {"data": {"name": "schemE1"}, "transform": [{"filter": "datum.part == 'label'"}], "mark": {"type": "text", "fontSize": 12.5, "fontWeight": "bold", "color": "#1a1a1a", "align": "center", "baseline": "middle"}, "encoding": {"text": {"field": "t"}}},
        {"data": {"name": "schemE1"}, "transform": [{"filter": "datum.part == 'letter'"}], "mark": {"type": "text", "fontSize": 25, "color": "#111", "align": "left", "baseline": "alphabetic"}, "encoding": {"text": {"field": "t"}}}
      ]
    },
    {
      "width": 146, "height": 145,
      "data": {"name": "schemE2"},
      "encoding": {
        "x": {"field": "x", "type": "quantitative", "scale": {"domain": [457, 603], "range": [0, 146], "nice": false, "zero": false}, "axis": null},
        "y": {"field": "y", "type": "quantitative", "scale": {"domain": [366, 511], "range": [0, 145], "nice": false, "zero": false}, "axis": null}
      },
      "layer": [
        {"transform": [{"filter": "datum.part == 'box'"}], "mark": {"type": "rect", "fill": "white", "stroke": "#111", "strokeWidth": 1.5}, "encoding": {"x2": {"field": "x2"}, "y2": {"field": "y2"}}},
        {"transform": [{"filter": "datum.part == 'outline'"}], "mark": {"type": "line", "color": "#111", "strokeWidth": 2}, "encoding": {"detail": {"field": "id"}, "order": {"field": "seq"}}},
        {"transform": [{"filter": "datum.part == 'head'"}], "mark": {"type": "point", "shape": "triangle-right", "size": 45, "filled": true, "fill": "#111", "strokeWidth": 0, "opacity": 1}},
        {"transform": [{"filter": "datum.part == 'label'"}], "mark": {"type": "text", "fontSize": 12.5, "fontWeight": "bold", "color": "#1a1a1a", "align": "center", "baseline": "middle"}, "encoding": {"text": {"field": "t"}}}
      ]
    },
    {
      "width": 145, "height": 146,
      "title": {"text": "F", "dx": -83, "dy": 10},
      "resolve": {"axis": {"x": "independent"}},
      "layer": [
        {"data": {"values": [{}]}, "mark": {"type": "rule", "strokeDash": [2, 3], "strokeWidth": 1.5, "color": "#111"}, "encoding": {"y": {"datum": 50, "type": "quantitative", "scale": {"domain": [0, 150], "nice": false}}}},
        {"data": {"name": "curves"}, "transform": [{"filter": "datum.p == 'F'"}], "mark": {"type": "line", "interpolate": "monotone", "strokeWidth": 2},
          "encoding": {
            "x": {"field": "x", "type": "quantitative", "scale": {"domain": [-4, 2], "nice": false, "zero": false}, "axis": {"orient": "top", "title": "BT-TR2A clone", "labels": false, "ticks": false, "domain": false, "titlePadding": 15}},
            "y": {"field": "y", "type": "quantitative", "scale": {"domain": [0, 150], "nice": false}},
            "color": {"field": "s", "type": "nominal", "scale": {"domain": ["BT-TR2A (+T)", "BT-TR2A washout", "BT474", "BT-TR2 (+T)"], "range": ["#111111", "#a3a3a3", "#111111", "#404040"]}}
          }},
        {"data": {"name": "pts"}, "transform": [{"filter": "datum.p == 'F' && datum.lo != null"}], "mark": {"type": "rule", "strokeWidth": 2},
          "encoding": {
            "x": {"field": "x", "type": "quantitative", "scale": {"domain": [-4, 2], "nice": false, "zero": false}, "axis": null},
            "y": {"field": "lo", "type": "quantitative", "scale": {"domain": [0, 150], "nice": false}},
            "y2": {"field": "hi"},
            "color": {"field": "s", "type": "nominal", "scale": {"domain": ["BT-TR2A (+T)", "BT-TR2A washout", "BT474", "BT-TR2 (+T)"], "range": ["#111111", "#a3a3a3", "#111111", "#404040"]}}
          }},
        {"data": {"name": "pts"}, "transform": [{"filter": "datum.p == 'F' && datum.lo != null"}], "mark": {"type": "tick", "orient": "horizontal", "thickness": 2, "size": 7, "opacity": 1},
          "encoding": {
            "x": {"field": "x", "type": "quantitative", "scale": {"domain": [-4, 2], "nice": false, "zero": false}, "axis": null},
            "y": {"field": "lo", "type": "quantitative", "scale": {"domain": [0, 150], "nice": false}},
            "color": {"field": "s", "type": "nominal", "scale": {"domain": ["BT-TR2A (+T)", "BT-TR2A washout", "BT474", "BT-TR2 (+T)"], "range": ["#111111", "#a3a3a3", "#111111", "#404040"]}}
          }},
        {"data": {"name": "pts"}, "transform": [{"filter": "datum.p == 'F' && datum.lo != null"}], "mark": {"type": "tick", "orient": "horizontal", "thickness": 2, "size": 7, "opacity": 1},
          "encoding": {
            "x": {"field": "x", "type": "quantitative", "scale": {"domain": [-4, 2], "nice": false, "zero": false}, "axis": null},
            "y": {"field": "hi", "type": "quantitative", "scale": {"domain": [0, 150], "nice": false}},
            "color": {"field": "s", "type": "nominal", "scale": {"domain": ["BT-TR2A (+T)", "BT-TR2A washout", "BT474", "BT-TR2 (+T)"], "range": ["#111111", "#a3a3a3", "#111111", "#404040"]}}
          }},
        {"data": {"name": "pts"}, "transform": [{"filter": "datum.p == 'F'"}], "mark": {"type": "point", "filled": true, "size": 50, "strokeWidth": 0, "opacity": 1},
          "encoding": {
            "x": {"field": "x", "type": "quantitative", "scale": {"domain": [-4, 2], "nice": false, "zero": false}, "axis": {"orient": "bottom", "values": [-4, -2, 0, 2], "title": "log [trastuzumab] (µg/mL)", "labelFlush": false, "titlePadding": 2}},
            "y": {"field": "y", "type": "quantitative", "scale": {"domain": [0, 150], "nice": false}, "axis": {"values": [0, 50, 100, 150], "title": ["Proliferation", "(% of control)"], "titlePadding": 5, "titleLineHeight": 12.5}},
            "color": {"field": "s", "type": "nominal", "scale": {"domain": ["BT-TR2A (+T)", "BT-TR2A washout", "BT474", "BT-TR2 (+T)"], "range": ["#111111", "#a3a3a3", "#111111", "#404040"]}, "legend": {"orient": "none", "legendX": 144, "legendY": -10, "title": null, "encode": {"symbols": {"update": {"strokeWidth": {"value": 2}, "size": {"value": 30}}}}}},
            "stroke": {"field": "s", "type": "nominal", "scale": {"domain": ["BT-TR2A (+T)", "BT-TR2A washout", "BT474", "BT-TR2 (+T)"], "range": ["#111111", "#a3a3a3", "#111111", "#404040"]}, "legend": {"orient": "none", "legendX": 144, "legendY": -10, "title": null, "encode": {"symbols": {"update": {"strokeWidth": {"value": 2}, "size": {"value": 30}}}}}},
            "shape": {"field": "s", "type": "nominal", "scale": {"domain": ["BT-TR2A (+T)", "BT-TR2A washout", "BT474", "BT-TR2 (+T)"], "range": ["M-3.8,0H3.8M-1.1,-0.85L1.1,-0.85L0,1.05Z", "M-3.8,0H3.8M-0.95,-0.95H0.95V0.95H-0.95Z", "M-3.8,0H3.8M-1.05,0A1.05,1.05,0,1,1,1.05,0A1.05,1.05,0,1,1,-1.05,0Z", "M-3.8,0H3.8M-1.1,0.85L1.1,0.85L0,-1.05Z"]}, "legend": {"orient": "none", "legendX": 144, "legendY": -10, "title": null, "encode": {"symbols": {"update": {"strokeWidth": {"value": 2}, "size": {"value": 30}}}}}}
          }}
      ]
    },
    {
      "width": 146, "height": 146,
      "title": {"text": "G", "dx": -85, "dy": 12},
      "resolve": {"axis": {"x": "independent"}},
      "layer": [
        {"data": {"values": [{}]}, "mark": {"type": "rule", "strokeDash": [2, 3], "strokeWidth": 1.5, "color": "#111"}, "encoding": {"y": {"datum": 50, "type": "quantitative", "scale": {"domain": [0, 150], "nice": false}}}},
        {"data": {"name": "curves"}, "transform": [{"filter": "datum.p == 'G'"}], "mark": {"type": "line", "interpolate": "monotone", "strokeWidth": 2},
          "encoding": {
            "x": {"field": "x", "type": "quantitative", "scale": {"domain": [-4, 2], "nice": false, "zero": false}, "axis": {"orient": "top", "title": "BT-TR2B clone", "labels": false, "ticks": false, "domain": false, "titlePadding": 14}},
            "y": {"field": "y", "type": "quantitative", "scale": {"domain": [0, 150], "nice": false}},
            "color": {"field": "s", "type": "nominal", "scale": {"domain": ["BT-TR2B (+T)", "BT-TR2B washout", "BT474", "BT-TR2 (+T)"], "range": ["#111111", "#a3a3a3", "#111111", "#404040"]}}
          }},
        {"data": {"name": "pts"}, "transform": [{"filter": "datum.p == 'G' && datum.lo != null"}], "mark": {"type": "rule", "strokeWidth": 2},
          "encoding": {
            "x": {"field": "x", "type": "quantitative", "scale": {"domain": [-4, 2], "nice": false, "zero": false}, "axis": null},
            "y": {"field": "lo", "type": "quantitative", "scale": {"domain": [0, 150], "nice": false}},
            "y2": {"field": "hi"},
            "color": {"field": "s", "type": "nominal", "scale": {"domain": ["BT-TR2B (+T)", "BT-TR2B washout", "BT474", "BT-TR2 (+T)"], "range": ["#111111", "#a3a3a3", "#111111", "#404040"]}}
          }},
        {"data": {"name": "pts"}, "transform": [{"filter": "datum.p == 'G' && datum.lo != null"}], "mark": {"type": "tick", "orient": "horizontal", "thickness": 2, "size": 7, "opacity": 1},
          "encoding": {
            "x": {"field": "x", "type": "quantitative", "scale": {"domain": [-4, 2], "nice": false, "zero": false}, "axis": null},
            "y": {"field": "lo", "type": "quantitative", "scale": {"domain": [0, 150], "nice": false}},
            "color": {"field": "s", "type": "nominal", "scale": {"domain": ["BT-TR2B (+T)", "BT-TR2B washout", "BT474", "BT-TR2 (+T)"], "range": ["#111111", "#a3a3a3", "#111111", "#404040"]}}
          }},
        {"data": {"name": "pts"}, "transform": [{"filter": "datum.p == 'G' && datum.lo != null"}], "mark": {"type": "tick", "orient": "horizontal", "thickness": 2, "size": 7, "opacity": 1},
          "encoding": {
            "x": {"field": "x", "type": "quantitative", "scale": {"domain": [-4, 2], "nice": false, "zero": false}, "axis": null},
            "y": {"field": "hi", "type": "quantitative", "scale": {"domain": [0, 150], "nice": false}},
            "color": {"field": "s", "type": "nominal", "scale": {"domain": ["BT-TR2B (+T)", "BT-TR2B washout", "BT474", "BT-TR2 (+T)"], "range": ["#111111", "#a3a3a3", "#111111", "#404040"]}}
          }},
        {"data": {"name": "pts"}, "transform": [{"filter": "datum.p == 'G'"}], "mark": {"type": "point", "filled": true, "size": 50, "strokeWidth": 0, "opacity": 1},
          "encoding": {
            "x": {"field": "x", "type": "quantitative", "scale": {"domain": [-4, 2], "nice": false, "zero": false}, "axis": {"orient": "bottom", "values": [-4, -2, 0, 2], "title": "log [trastuzumab] (µg/mL)", "labelFlush": false, "titlePadding": 2}},
            "y": {"field": "y", "type": "quantitative", "scale": {"domain": [0, 150], "nice": false}, "axis": {"values": [0, 50, 100, 150], "title": ["Proliferation", "(% of control)"], "titlePadding": 5, "titleLineHeight": 12.5}},
            "color": {"field": "s", "type": "nominal", "scale": {"domain": ["BT-TR2B (+T)", "BT-TR2B washout", "BT474", "BT-TR2 (+T)"], "range": ["#111111", "#a3a3a3", "#111111", "#404040"]}, "legend": {"orient": "none", "legendX": 145, "legendY": -18, "title": null, "encode": {"symbols": {"update": {"strokeWidth": {"value": 2}, "size": {"value": 30}}}}}},
            "stroke": {"field": "s", "type": "nominal", "scale": {"domain": ["BT-TR2B (+T)", "BT-TR2B washout", "BT474", "BT-TR2 (+T)"], "range": ["#111111", "#a3a3a3", "#111111", "#404040"]}, "legend": {"orient": "none", "legendX": 145, "legendY": -18, "title": null, "encode": {"symbols": {"update": {"strokeWidth": {"value": 2}, "size": {"value": 30}}}}}},
            "shape": {"field": "s", "type": "nominal", "scale": {"domain": ["BT-TR2B (+T)", "BT-TR2B washout", "BT474", "BT-TR2 (+T)"], "range": ["M-3.8,0H3.8M-1.1,-0.85L1.1,-0.85L0,1.05Z", "M-3.8,0H3.8M-0.95,-0.95H0.95V0.95H-0.95Z", "M-3.8,0H3.8M-1.05,0A1.05,1.05,0,1,1,1.05,0A1.05,1.05,0,1,1,-1.05,0Z", "M-3.8,0H3.8M-1.1,0.85L1.1,0.85L0,-1.05Z"]}, "legend": {"orient": "none", "legendX": 145, "legendY": -18, "title": null, "encode": {"symbols": {"update": {"strokeWidth": {"value": 2}, "size": {"value": 30}}}}}}
          }}
      ]
    }
  ]
}
